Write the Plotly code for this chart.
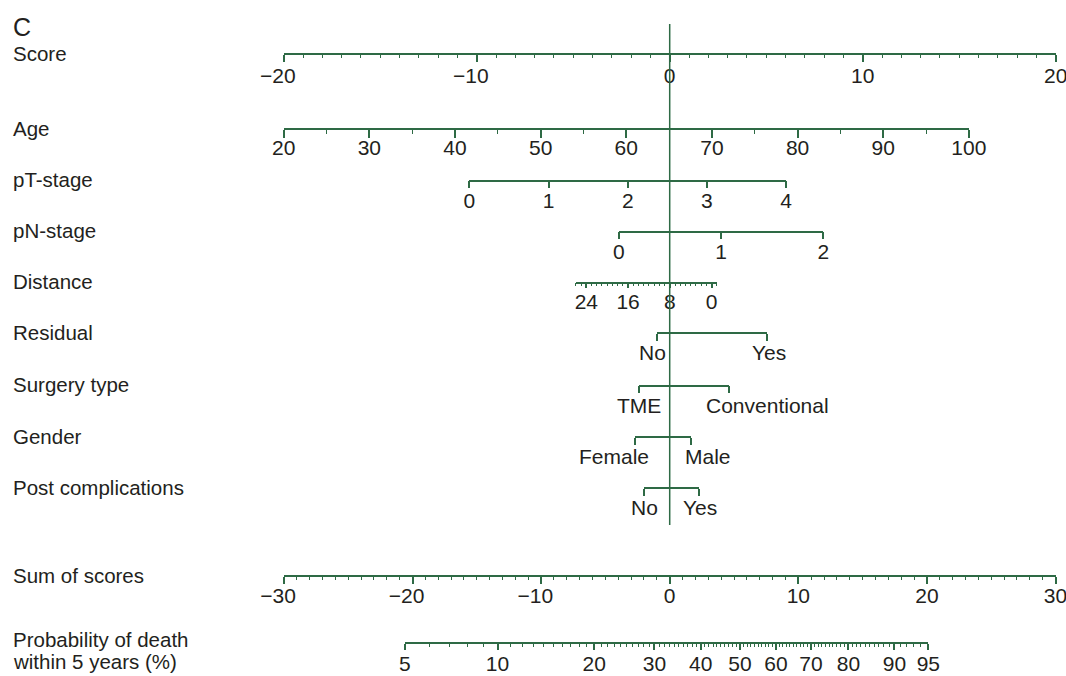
import math
import plotly.graph_objects as go

# ---------------- data ----------------
score_range = [-20, 20]
score_ticks = [-20, -10, 0, 10, 20]

age_ticks = [20, 30, 40, 50, 60, 70, 80, 90, 100]
age_minor = [25, 35, 45, 55, 65, 75, 85, 95]
age_score_ends = [-20.0, 15.5]          # points at age 20 and age 100

pt_levels = [0, 1, 2, 3, 4]
pt_score_ends = [-10.38, 6.03]

pn_levels = [0, 1, 2]
pn_score_ends = [-2.63, 7.96]

distance_ticks = [24, 16, 8, 0]
distance_major = [24, 20, 16, 12, 8, 4, 0]
distance_range = [26, -1]
distance_score_ends = [-4.86, 2.44]

residual_levels = ["No", "Yes"]
residual_scores = [-0.67, 5.06]

surgery_levels = ["TME", "Conventional"]
surgery_scores = [-1.57, 3.09]

gender_levels = ["Female", "Male"]
gender_scores = [-1.81, 1.10]

postcomp_levels = ["No", "Yes"]
postcomp_scores = [-1.33, 1.50]

sum_range = [-30, 30]
sum_ticks = [-30, -20, -10, 0, 10, 20, 30]

prob_ticks = [5, 10, 20, 30, 40, 50, 60, 70, 80, 90, 95]
prob_minor = list(range(5, 96))
# baseline of the 5-year risk model: cloglog(p) = intercept + slope * sum
risk_intercept = -0.9126
risk_slope = 0.09993

row_labels = ["Score", "Age", "pT-stage", "pN-stage", "Distance", "Residual",
              "Surgery type", "Gender", "Post complications", "Sum of scores",
              ["Probability of death", "within 5 years (%)"]]

# ---------------- layout geometry / style ----------------
W, H = 1066, 676
ZERO_PX = 669.7          # pixel of score 0
SCORE_PX = 19.3          # pixels per score point
SUM_PX = 12.86           # pixels per sum-of-scores point
GREEN = "#2e6a45"
TEXT = "#231f20"
FONT = "Liberation Sans, Arial, Helvetica, sans-serif"
TICK_SIZE = 21
LABEL_SIZE = 20.5
LABEL_X = 11

row_y = [54, 129.3, 180.7, 231.7, 282.7, 333.3, 385.7, 437.3, 488.3, 576, 643.3]
# horizontal nudges (px) of the categorical labels, as drawn in the reference
cat_label_shift = [[-4, 1.5], [0, 37.7], [-20.7, 17], [0.5, 1.3]]
NEG_PAD = "\u00a0\u00a0"   # negative labels sit slightly left of their tick


def score_px(s):
    return ZERO_PX + s * SCORE_PX


def sum_px(s):
    return ZERO_PX + s * SUM_PX


def prob_to_sum(p):
    return (math.log(-math.log(1 - p / 100.0)) - risk_intercept) / risk_slope


def num_text(v):
    return f"\u2212{abs(v)}{NEG_PAD}" if v < 0 else str(v)


fig = go.Figure()
layout_axes = {}
annotations = []


def add_row(idx, ypx, rng, dom_px, tickvals, ticktext=None, minor_vals=None,
            ticklen=7, minor_len=3.5, standoff=-6, show_labels=True):
    name = "xaxis" if idx == 1 else f"xaxis{idx}"
    ref = "x" if idx == 1 else f"x{idx}"
    ax = dict(
        domain=[dom_px[0] / W, dom_px[1] / W],
        anchor="free",
        position=1 - ypx / H,
        range=list(rng),
        autorange=False,
        automargin=False,
        side="bottom",
        showline=True, linecolor=GREEN, linewidth=1.5,
        ticks="outside", ticklen=ticklen, tickwidth=1.5, tickcolor=GREEN,
        tickmode="array", tickvals=list(tickvals),
        showticklabels=show_labels, tickangle=0,
        ticklabelstandoff=standoff,
        showgrid=False, zeroline=False, fixedrange=True,
        tickfont=dict(family=FONT, size=TICK_SIZE, color=TEXT),
        ticklabeloverflow="allow",
    )
    if ticktext is not None:
        ax["ticktext"] = list(ticktext)
    if minor_vals is not None:
        ax["minor"] = dict(tickmode="array", tickvals=list(minor_vals),
                           ticks="outside", ticklen=minor_len, tickwidth=1.3,
                           tickcolor=GREEN, showgrid=False)
    layout_axes[name] = ax
    fig.add_trace(go.Scatter(x=[rng[0], rng[1]], y=[0.5, 0.5], xaxis=ref, yaxis="y",
                             mode="markers", marker=dict(size=1, opacity=0),
                             hoverinfo="skip", showlegend=False))
    return ref


# Score
add_row(1, row_y[0], score_range, [score_px(-20), score_px(20)], score_ticks,
        ticktext=[num_text(v) for v in score_ticks],
        minor_vals=list(range(-20, 21)), standoff=-4)
# Age
add_row(2, row_y[1], [age_ticks[0], age_ticks[-1]],
        [score_px(age_score_ends[0]), score_px(age_score_ends[1])], age_ticks,
        minor_vals=age_minor, ticklen=7.5, minor_len=4, standoff=-8)
# pT-stage
add_row(3, row_y[2], [pt_levels[0], pt_levels[-1]],
        [score_px(pt_score_ends[0]), score_px(pt_score_ends[1])], pt_levels)
# pN-stage
add_row(4, row_y[3], [pn_levels[0], pn_levels[-1]],
        [score_px(pn_score_ends[0]), score_px(pn_score_ends[1])], pn_levels)
# Distance (reversed)
add_row(5, row_y[4], distance_range,
        [score_px(distance_score_ends[0]), score_px(distance_score_ends[1])],
        distance_major,
        ticktext=[str(v) if v in distance_ticks else "" for v in distance_major],
        minor_vals=list(range(distance_range[1], distance_range[0] + 1)),
        ticklen=5, minor_len=3, standoff=-5)
# Categorical rows (labels drawn as annotations tied to each axis)
cat_rows = [(residual_levels, residual_scores), (surgery_levels, surgery_scores),
            (gender_levels, gender_scores), (postcomp_levels, postcomp_scores)]
for k, (lv, sc) in enumerate(cat_rows):
    ypx = row_y[5 + k]
    ref = add_row(6 + k, ypx, [sc[0], sc[1]], [score_px(sc[0]), score_px(sc[1])],
                  sc, ticktext=lv, show_labels=False)
    for j, (lab, s) in enumerate(zip(lv, sc)):
        annotations.append(dict(text=lab, x=s, xref=ref, y=1 - (ypx + 19.4) / H,
                                yref="paper", xanchor="center", yanchor="middle",
                                xshift=cat_label_shift[k][j], showarrow=False,
                                font=dict(family=FONT, size=TICK_SIZE, color=TEXT)))
# Sum of scores
add_row(10, row_y[9], sum_range, [sum_px(sum_range[0]), sum_px(sum_range[1])], sum_ticks,
        ticktext=[num_text(v) for v in sum_ticks],
        minor_vals=list(range(sum_range[0], sum_range[1] + 1)))
# Probability
p_lo, p_hi = prob_to_sum(prob_ticks[0]), prob_to_sum(prob_ticks[-1])
add_row(11, row_y[10], [p_lo, p_hi], [sum_px(p_lo), sum_px(p_hi)],
        [prob_to_sum(p) for p in prob_ticks], ticktext=[str(p) for p in prob_ticks],
        minor_vals=[prob_to_sum(p) for p in prob_minor], ticklen=6, minor_len=3,
        standoff=-4)

annotations.append(dict(text="C", x=LABEL_X / W, y=1 - 27 / H, xref="paper",
                        yref="paper", xanchor="left", yanchor="middle",
                        showarrow=False, font=dict(family=FONT, size=25, color=TEXT)))
for lab, ypx in zip(row_labels, row_y):
    if isinstance(lab, list):
        lines = [(lab[0], ypx - 3.5), (lab[1], ypx + 18)]
    else:
        lines = [(lab, ypx - 1)]
    for txt, ty in lines:
        annotations.append(dict(text=txt, x=LABEL_X / W, y=1 - ty / H,
                                xref="paper", yref="paper", xanchor="left",
                                yanchor="middle", showarrow=False,
                                font=dict(family=FONT, size=LABEL_SIZE, color=TEXT)))

fig.update_layout(
    template="none",
    width=W, height=H,
    margin=dict(l=0, r=0, t=0, b=0, pad=0),
    paper_bgcolor="white", plot_bgcolor="rgba(0,0,0,0)",
    yaxis=dict(range=[0, 1], domain=[0, 1], visible=False, fixedrange=True,
               automargin=False),
    annotations=annotations,
    shapes=[dict(type="line", xref="x", yref="paper", x0=0, x1=0,
                 y0=1 - 525 / H, y1=1 - 24 / H,
                 line=dict(color=GREEN, width=1.5))],
    showlegend=False,
    **layout_axes,
)

fig.write_html("out.html", config={"displayModeBar": False},
               post_script="document.body.style.margin='0px';")
